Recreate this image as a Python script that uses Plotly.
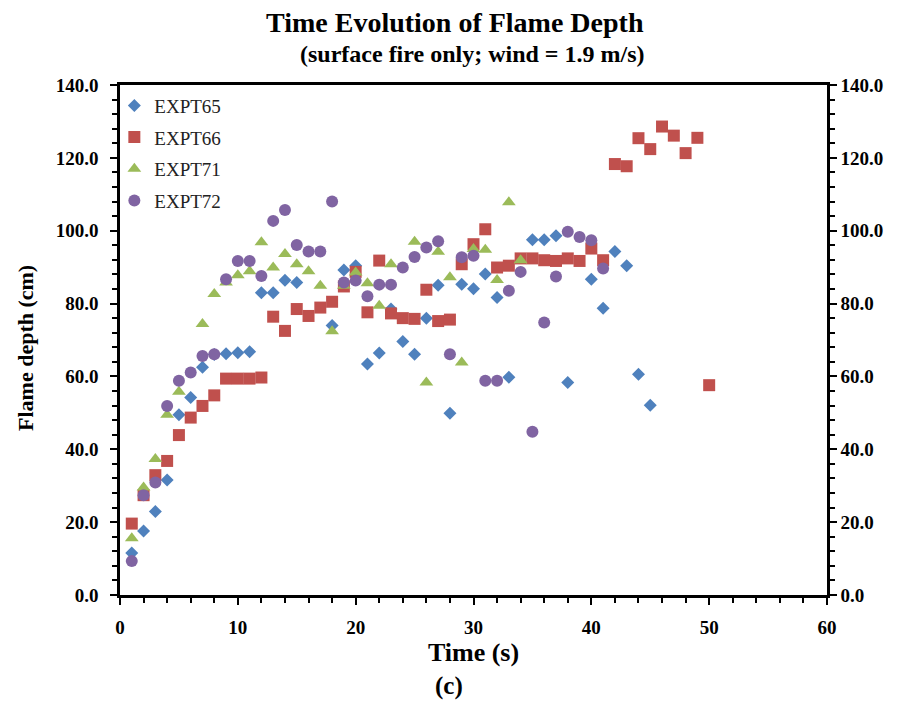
import plotly.graph_objects as go

# ---------------- data ----------------
t65 = [1, 2, 3, 4, 5, 6, 7, 8, 9, 10, 11, 12, 13, 14, 15, 18, 19, 20, 21, 22, 23, 24, 25,
       26, 27, 28, 29, 30, 31, 32, 33, 35, 36, 37, 38, 40, 41, 42, 43, 44, 45]
d65 = [11.5, 17.6, 22.9, 31.6, 49.5, 54.2, 62.5, 66.0, 66.2, 66.5, 66.8, 83.0, 83.0, 86.4, 85.8,
       74.0, 89.2, 90.4, 63.4, 66.4, 78.5, 69.6, 66.1,
       76.0, 85.0, 49.9, 85.3, 84.1, 88.1, 81.7, 59.8, 97.5, 97.5, 98.6, 58.3, 86.7, 78.7, 94.3,
       90.4, 60.6, 52.1]

t66 = list(range(1, 51))
d66 = [19.6, 27.4, 32.9, 36.8, 43.9, 48.7, 51.9, 54.8, 59.4, 59.4, 59.4, 59.7, 76.4, 72.5,
       78.5, 76.6, 78.9, 80.5, 84.7, 88.7, 77.6, 91.8, 77.3, 76.0, 75.8, 83.8, 75.2, 75.6,
       90.8, 96.3, 100.4, 89.9, 90.4, 92.4, 92.4, 91.9, 91.7, 92.4, 91.7, 95.1, 91.9, 118.3,
       117.7, 125.4, 122.4, 128.6, 126.1, 121.3, 125.5, 57.6]

t71 = [1, 2, 3, 4, 5, 7, 8, 9, 10, 11, 12, 13, 14, 15, 16, 17, 18, 19, 20, 21, 22, 23,
       25, 26, 27, 28, 29, 30, 31, 32, 33, 34]
d71 = [15.6, 29.5, 37.3, 49.5, 55.8, 74.4, 82.6, 85.8, 87.8, 88.9, 96.8, 89.9, 93.6, 90.8,
       88.9, 84.9, 72.4, 84.9, 88.5, 85.6, 79.4, 90.8,
       97.0, 58.3, 94.2, 87.2, 63.8, 95.0, 94.8, 86.5, 107.8, 91.9]

t72 = [1, 2, 3, 4, 5, 6, 7, 8, 9, 10, 11, 12, 13, 14, 15, 16, 17, 18, 19, 20, 21, 22, 23,
       24, 25, 26, 27, 28, 29, 30, 31, 32, 33, 34, 35, 36, 37, 38, 39, 40, 41]
d72 = [9.3, 27.4, 30.9, 51.9, 58.8, 61.1, 65.6, 66.1, 86.7, 91.7, 91.7, 87.6, 102.7, 105.7,
       96.1, 94.3, 94.3, 108.0, 85.8, 86.3, 82.0, 85.2, 85.2,
       89.9, 92.8, 95.4, 97.1, 66.1, 92.7, 93.1, 58.8, 58.8, 83.5, 88.7, 44.8, 74.8, 87.4,
       99.7, 98.3, 97.4, 89.6]

series = [
    ("EXPT65", t65, d65, "diamond", "#4F81BD", 10),
    ("EXPT66", t66, d66, "square", "#C0504D", 12),
    ("EXPT71", t71, d71, "triangle-up", "#9BBB59", 12),
    ("EXPT72", t72, d72, "circle", "#8064A2", 12),
]

x_ticks = [0, 10, 20, 30, 40, 50, 60]
y_ticks = [0, 20, 40, 60, 80, 100, 120, 140]

FONT = "Liberation Serif"
W, H = 898, 708
ML, MR, MT, MB = 120, 71, 85, 113
PW, PH = W - ML - MR, H - MT - MB

fig = go.Figure()
for name, xs, ys, sym, col, sz in series:
    fig.add_trace(go.Scatter(
        x=xs, y=ys, mode="markers", name=name, legendgroup=name,
        marker=dict(symbol=sym, color=col, size=sz, line=dict(width=0)),
    ))

# invisible trace to anchor the right-hand axis
fig.add_trace(go.Scatter(x=[0], y=[0], yaxis="y2", mode="markers",
                         marker=dict(opacity=0), showlegend=False, hoverinfo="skip"))

axis_font = dict(family=FONT, size=19, color="black", weight="bold")

fig.update_layout(
    width=W, height=H,
    margin=dict(l=ML, r=MR, t=MT, b=MB),
    paper_bgcolor="white", plot_bgcolor="white",
    font=dict(family=FONT, color="black"),
    showlegend=True,
    xaxis=dict(
        range=[0, 60], tickvals=x_ticks, ticktext=[str(v) for v in x_ticks],
        showline=True, linecolor="black", linewidth=2.5, mirror=True,
        ticks="outside", ticklen=7, tickwidth=2, tickcolor="black",
        minor=dict(dtick=2, ticks="outside", ticklen=5, tickwidth=2, tickcolor="black"),
        showgrid=False, zeroline=False, tickfont=axis_font, ticklabelstandoff=6,
        title=dict(text="<b>Time (s)</b>", font=dict(family=FONT, size=26, color="black"), standoff=0),
    ),
    yaxis=dict(
        range=[0, 140], tickvals=y_ticks, tickformat=".1f",
        showline=True, linecolor="black", linewidth=2.5,
        ticks="outside", ticklen=7, tickwidth=2, tickcolor="black",
        minor=dict(dtick=4, ticks="outside", ticklen=5, tickwidth=2, tickcolor="black"),
        showgrid=False, zeroline=False, tickfont=axis_font, ticklabelstandoff=8,
    ),
    yaxis2=dict(
        range=[0, 140], tickvals=y_ticks, tickformat=".1f", overlaying="y", side="right",
        showline=True, linecolor="black", linewidth=2.5,
        ticks="outside", ticklen=7, tickwidth=2, tickcolor="black",
        minor=dict(dtick=4, ticks="outside", ticklen=5, tickwidth=2, tickcolor="black"),
        showgrid=False, zeroline=False, tickfont=axis_font,
    ),
    legend=dict(
        x=-0.008, y=0.997, xanchor="left", yanchor="top",
        bgcolor="rgba(0,0,0,0)", borderwidth=0,
        font=dict(family=FONT, size=19, color="#222222"),
        tracegroupgap=4, itemwidth=30,
    ),
)


def px_x(px):
    return (px - ML) / PW


def px_y(py):
    return (MT + PH - py) / PH


fig.add_annotation(text="<b>Time Evolution of Flame Depth</b>", x=px_x(455), xref="paper",
                   y=px_y(23), yref="paper", showarrow=False, yanchor="middle",
                   font=dict(family=FONT, size=28, color="black"))
fig.add_annotation(text="<b>(surface fire only; wind = 1.9 m/s)</b>", x=px_x(472), xref="paper",
                   y=px_y(54), yref="paper", showarrow=False, yanchor="middle",
                   font=dict(family=FONT, size=24, color="black"))
fig.add_annotation(text="<b>Flame depth (cm)</b>", x=px_x(25), xref="paper",
                   y=px_y(348), yref="paper", showarrow=False, textangle=-90,
                   xanchor="center", yanchor="middle",
                   font=dict(family=FONT, size=22, color="black"))
fig.add_annotation(text="<b>(c)</b>", x=px_x(449), xref="paper", y=px_y(686), yref="paper",
                   yanchor="middle", showarrow=False,
                   font=dict(family=FONT, size=25, color="black"))

fig.write_html("out.html")
